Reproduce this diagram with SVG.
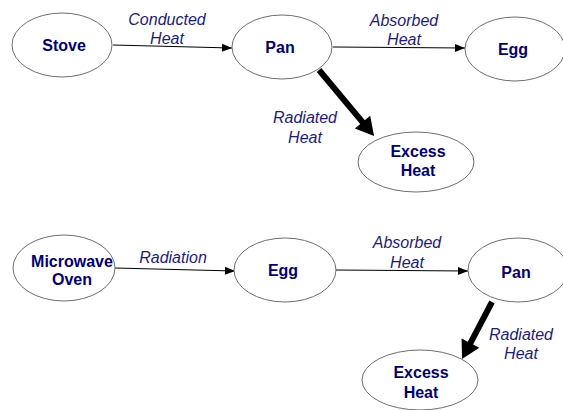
<svg xmlns="http://www.w3.org/2000/svg" width="563" height="410" viewBox="0 0 563 410">
<style>
.n ellipse{fill:#fff;stroke:#6e6e6e;stroke-width:1}
.n text{font-family:"Liberation Sans",Arial,sans-serif;font-size:16px;font-weight:bold;fill:#000080;text-anchor:middle}
.lbl{font-family:"Liberation Sans",Arial,sans-serif;font-size:16px;font-style:italic;fill:#1a1a8c;text-anchor:middle}
.thin{stroke:#000;stroke-width:1.2;fill:none;marker-end:url(#ah)}
.thick{stroke:#000;stroke-width:6;fill:none;marker-end:url(#ahb)}
</style>
<defs>
<marker id="ah" markerUnits="userSpaceOnUse" markerWidth="11" markerHeight="9" refX="10" refY="4" orient="auto" overflow="visible">
<path d="M0,0 L10,4 L0,8 z" fill="#000"/>
</marker>
<marker id="ahb" markerUnits="userSpaceOnUse" markerWidth="20" markerHeight="22" refX="2" refY="10" orient="auto" overflow="visible">
<path d="M0,0 L18,10 L0,20 z" fill="#000"/>
</marker>
</defs>

<g id="connectors">
<line class="thin" x1="113" y1="45" x2="232" y2="48"/>
<line class="thin" x1="333" y1="47" x2="465" y2="48"/>
<line class="thick" x1="319" y1="70" x2="363.8" y2="123.7"/>
<line class="thin" x1="115" y1="268" x2="235" y2="271"/>
<line class="thin" x1="336" y1="270" x2="468" y2="271"/>
<line class="thick" x1="492" y1="302" x2="469.5" y2="344.8"/>
<text class="lbl" x="167" y="25">Conducted</text>
<text class="lbl" x="167" y="44">Heat</text>
<text class="lbl" x="404" y="26">Absorbed</text>
<text class="lbl" x="404" y="45">Heat</text>
<text class="lbl" x="305" y="123">Radiated</text>
<text class="lbl" x="305" y="143">Heat</text>
<text class="lbl" x="173" y="263">Radiation</text>
<text class="lbl" x="407" y="248">Absorbed</text>
<text class="lbl" x="407" y="268">Heat</text>
<text class="lbl" x="521" y="340">Radiated</text>
<text class="lbl" x="521" y="359">Heat</text>
</g>

<g id="stove" class="n"><ellipse cx="62" cy="45" rx="50" ry="32"/><text x="64" y="51">Stove</text></g>
<g id="pan1" class="n"><ellipse cx="282" cy="47" rx="50" ry="32"/><text x="280" y="53">Pan</text></g>
<g id="egg1" class="n"><ellipse cx="515" cy="49" rx="50" ry="32"/><text x="513" y="55">Egg</text></g>
<g id="excess1" class="n"><ellipse cx="416" cy="162" rx="58" ry="30"/><text x="418" y="157">Excess</text><text x="418" y="176">Heat</text></g>

<g id="microwave" class="n"><ellipse cx="64" cy="268" rx="51" ry="33"/><text x="72" y="267">Microwave</text><text x="72" y="285">Oven</text></g>
<g id="egg2" class="n"><ellipse cx="285" cy="270" rx="51" ry="32"/><text x="283" y="276">Egg</text></g>
<g id="pan2" class="n"><ellipse cx="518" cy="270" rx="50" ry="32"/><text x="516" y="278">Pan</text></g>
<g id="excess2" class="n"><ellipse cx="420" cy="380" rx="58" ry="30"/><text x="421" y="378">Excess</text><text x="421" y="398">Heat</text></g>
</svg>
